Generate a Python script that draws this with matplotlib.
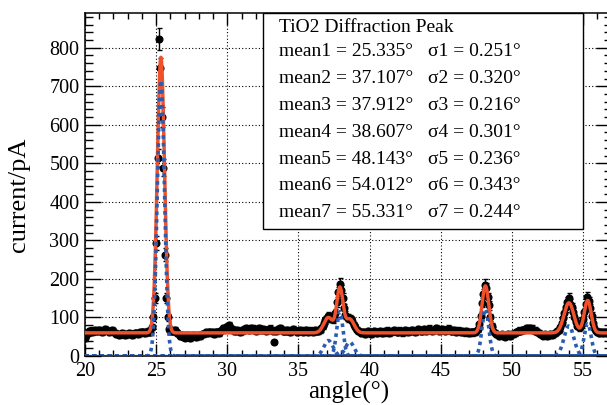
import matplotlib
matplotlib.use('Agg')
import matplotlib.pyplot as plt
import numpy as np
from matplotlib.patches import Rectangle

plt.rcParams['font.family'] = ['Liberation Serif', 'DejaVu Serif']

# measured scan, one row per degree (20.0 ... 56.9, step 0.1)
angle = np.round(np.arange(200, 570) / 10, 1)
current = [
    46, 55, 60, 64, 66, 63, 65, 67, 64, 66,
    68, 65, 63, 66, 70, 68, 64, 62, 65, 67,
    64, 60, 58, 56, 55, 57, 59, 56, 54, 57,
    58, 60, 56, 55, 58, 60, 59, 57, 60, 62,
    61, 63, 60, 62, 64, 63, 62, 75, 100, 150,
    293, 514, 822, 747, 620, 489, 263, 150, 100, 70,
    66, 64, 66, 68, 62, 60, 56, 52, 55, 50,
    48, 52, 54, 50, 47, 51, 55, 52, 49, 53,
    55, 52, 56, 58, 60, 62, 59, 61, 63, 60,
    62, 58, 61, 63, 60, 64, 68, 72, 70, 74,
    76, 80, 73, 70, 68, 66, 64, 67, 65, 63,
    66, 68, 70, 72, 69, 67, 70, 73, 71, 68,
    66, 70, 72, 69, 67, 70, 68, 65, 67, 70,
    71, 68, 66, 36, 64, 67, 70, 72, 69, 66,
    64, 66, 68, 65, 63, 66, 69, 67, 64, 62,
    65, 67, 64, 62, 66, 68, 65, 63, 66, 64,
    62, 65, 67, 64, 66, 68, 72, 78, 86, 93,
    98, 104, 102, 97, 95, 100, 112, 140, 165, 188,
    172, 150, 124, 106, 100, 98, 97, 95, 90, 80,
    74, 68, 65, 62, 60, 63, 61, 58, 62, 64,
    60, 58, 62, 64, 61, 59, 63, 65, 62, 60,
    61, 64, 66, 63, 60, 62, 65, 67, 64, 62,
    63, 66, 64, 61, 63, 67, 65, 62, 64, 66,
    68, 65, 63, 66, 69, 67, 64, 66, 70, 68,
    66, 69, 71, 68, 65, 67, 70, 72, 69, 66,
    68, 70, 67, 65, 68, 71, 69, 66, 64, 67,
    65, 63, 66, 64, 62, 65, 63, 61, 64, 62,
    60, 62, 61, 63, 62, 64, 70, 82, 104, 138,
    160, 185, 176, 152, 132, 100, 78, 66, 60, 56,
    55, 52, 54, 56, 53, 50, 54, 57, 55, 52,
    56, 58, 60, 62, 64, 66, 65, 67, 68, 70,
    71, 72, 70, 73, 71, 68, 66, 64, 62, 60,
    58, 55, 53, 56, 54, 52, 55, 57, 54, 56,
    60, 63, 64, 68, 74, 86, 98, 112, 126, 140,
    150, 136, 126, 113, 100, 88, 79, 74, 75, 82,
    96, 115, 135, 154, 142, 125, 104, 86, 72, 65,
    62, 60, 61, 63, 60, 62, 61, 59, 62, 60,
]
current = np.array(current, dtype=float)
current_err = np.sqrt(current)

# fit parameters (means / sigmas from the box, heights)
means = [25.335, 37.107, 37.912, 38.607, 48.143, 54.012, 55.331]
sigmas = [0.251, 0.320, 0.216, 0.301, 0.236, 0.343, 0.244]
heights = [715, 40, 115, 36, 122, 78, 84]
background = 60

fig = plt.figure(figsize=(6.07, 4.05), dpi=100)
ax = fig.add_axes([85 / 607, 49 / 405, 527 / 607, 343 / 405])

ax.errorbar(angle, current, yerr=current_err, fmt='o', color='black',
            ms=4.8, elinewidth=1.0, capsize=1.8, capthick=1.0, zorder=3)

xf = np.linspace(20, 57, 3000)
peaks = []
for m, s, h in zip(means, sigmas, heights):
    peaks.append(h * np.exp(-0.5 * ((xf - m) / s) ** 2))
total = background + np.sum(peaks, axis=0)

ax.plot(xf, total, color='#f0502a', lw=2.5, zorder=4)
for g in peaks:
    ax.plot(xf, g, color='#2a5db0', lw=2.6, ls=(0, (1, 1.1)), zorder=5)
ax.axhline(0, color='#1c3a8a', lw=1.6, zorder=5)

ax.set_xlim(20, 57.04)
ax.set_ylim(0, 890)
ax.set_xticks([20, 25, 30, 35, 40, 45, 50, 55])
ax.set_yticks(range(0, 900, 100))
ax.set_xticks(np.arange(20, 57, 1), minor=True)
ax.set_yticks(np.arange(0, 890, 20), minor=True)
ax.grid(True, which='major', color='black', ls=(0, (1, 2)), lw=0.8)
ax.set_axisbelow(True)

ax.tick_params(axis='both', which='both', direction='in', top=True, right=True,
               labelsize=14.5, width=1.0, pad=4)
ax.tick_params(axis='x', which='major', length=8.6)
ax.tick_params(axis='x', which='minor', length=4.3)
ax.tick_params(axis='y', which='major', length=11.5)
ax.tick_params(axis='y', which='minor', length=5.8)
for sp in ax.spines.values():
    sp.set_linewidth(1.1)

ax.set_xlabel('angle(°)', fontsize=18, labelpad=0)
ax.set_ylabel('current/pA', fontsize=19)
ax.yaxis.set_label_coords(-0.105, 0.47)

# stats box
box = Rectangle((263 / 607, 176 / 405), 320 / 607, 216 / 405, transform=fig.transFigure,
                facecolor='white', edgecolor='black', lw=1.0, zorder=6)
fig.patches.append(box)
fig.text(279 / 607, 1 - 27 / 405, 'TiO2 Diffraction Peak', fontsize=14,
         va='center', ha='left', zorder=7)
for i, (m, s) in enumerate(zip(means, sigmas)):
    yy = 1 - (52 + 26.8 * i) / 405
    fig.text(279 / 607, yy, f'mean{i + 1} = {m:.3f}°', fontsize=14,
             va='center', ha='left', zorder=7)
    fig.text(428 / 607, yy, f'σ{i + 1} = {s:.3f}°', fontsize=14,
             va='center', ha='left', zorder=7)

plt.savefig('out.png', dpi=100)
